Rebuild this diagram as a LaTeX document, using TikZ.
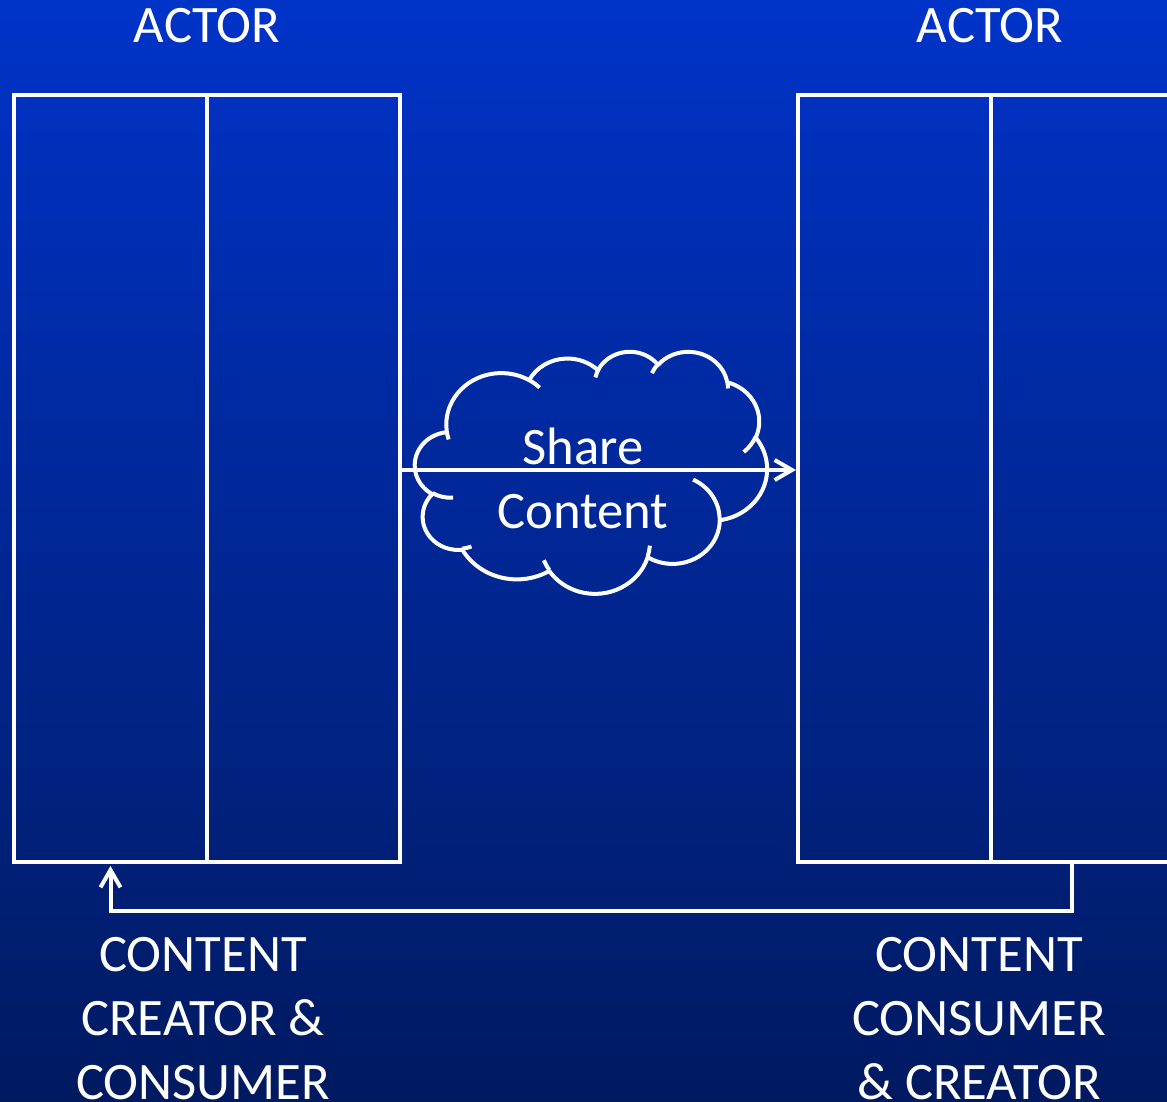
\documentclass[tikz,border=0pt]{standalone}
\usepackage{fontspec}
\setmainfont{Carlito}
\usetikzlibrary{arrows.meta}

\definecolor{bgtop}{RGB}{0,51,200}
\definecolor{bgmid}{RGB}{0,40,160}
\definecolor{bgbot}{RGB}{0,26,96}

% one puff of the cloud: radii, start angle and sweep (angles as seen, not parametric)
\newcommand\puff[4]{arc[x radius=#1, y radius=#2,
  start angle={atan2(#1*sin(#3),#2*cos(#3))},
  delta angle={mod(atan2(#1*sin(#3+#4),#2*cos(#3+#4))-atan2(#1*sin(#3),#2*cos(#3))+720,360)}]}

\begin{document}
\begin{tikzpicture}[x=0.75pt,y=0.75pt,yscale=-1,xscale=1,
  wire/.style={draw=white, line width=3pt},
  col/.style={wire, minimum width=144.75pt, minimum height=575.25pt, inner sep=0pt, outer sep=0pt},
  flow/.style={wire, -{Straight Barb[length=13pt,width=15pt]}},
  lbl/.style={text=white, font=\fontsize{39.5}{48}\selectfont, inner sep=0pt, align=center}]
\useasboundingbox (0,0) rectangle (1167,1102);
\clip (0,0) rectangle (1167,1102);

% background
\shade[top color=bgtop, middle color=bgmid, bottom color=bgbot] (0,0) rectangle (1167,1102);

% Actor boxes (two columns each)
\node[col] (creA) at (110.5,478.5) {};
\node[col] (creB) at (303.5,478.5) {};
\node[col] (conA) at (894.5,478.5) {};
\node[col] (conB) at (1087.5,478.5) {};

% Cloud
\begin{scope}[shift={(415,351)}, xscale=0.8148, yscale=0.5602, white, line width=3pt, line join=round]
\draw (39,143.7) \puff{67.53}{91.90}{-190.4875}{123.7805}
  \puff{53.33}{72.67}{-144.1024}{89.9452}
  \puff{43.65}{59.45}{-145.8079}{99.7230}
  \puff{48.57}{65.95}{-130.9861}{117.2417}
  \puff{53.33}{72.73}{-78.7089}{109.0269}
  \puff{67.75}{92.20}{-46.2673}{130.2690}
  \puff{57.85}{78.67}{0.6250}{114.0333}
  \puff{67.52}{92.15}{22.4516}{115.1726}
  \puff{77.20}{105.43}{66.2426}{75.7110}
  \puff{43.60}{59.18}{-274.9421}{146.7356}
  \puff{43.45}{59.45}{-246.8285}{152.5189} -- cycle;
\draw (46.93,261.77) \puff{43.45}{59.45}{86.7420}{26.4295}
  (69.28,348.99) \puff{43.60}{59.18}{73.6105}{11.4475}
  (164.78,390.90) \puff{67.52}{92.15}{137.6242}{14.0811}
  (288.27,347.51) \puff{67.52}{92.15}{6.4533}{15.9984}
  (341.29,229.54) \puff{57.85}{78.67}{-70.2924}{70.9174}
  (417.98,153.54) \puff{53.33}{72.73}{30.3180}{27.7515}
  (383.24,54.26) \puff{48.57}{65.95}{-13.7443}{14.8621}
  (290.78,39.52) \puff{48.57}{65.95}{-149.1815}{18.1944}
  (221.41,47.20) \puff{43.65}{59.45}{-163.4943}{19.5042}
  (140.00,51.92) \puff{67.53}{91.90}{-66.7070}{12.3194}
  (41.27,157.89) \puff{67.53}{91.90}{157.6544}{11.8582};
\end{scope}

% Text Nodes
\node[lbl, anchor=base] (actL) at (207,43) {ACTOR};
\node[lbl, anchor=base] (actR) at (990,43) {ACTOR};
\node[lbl, anchor=north] (share) at (583,428) {Share\\Content};
\node[lbl, anchor=north] (roleL) at (203,937) {CONTENT\\CREATOR \&\\CONSUMER};
\node[lbl, anchor=north] (roleR) at (979,937) {CONTENT\\CONSUMER\\\& CREATOR};

% Connectors
\coordinate (lane) at (0,470);
\draw[flow, shorten >=1.5pt] (creB.east |- lane) -- (conA.west |- lane);
\draw[flow, shorten >=3pt] ([xshift=-11.625pt]conB.south) -- ++(0,49) -| (creA.south);

\end{tikzpicture}
\end{document}
